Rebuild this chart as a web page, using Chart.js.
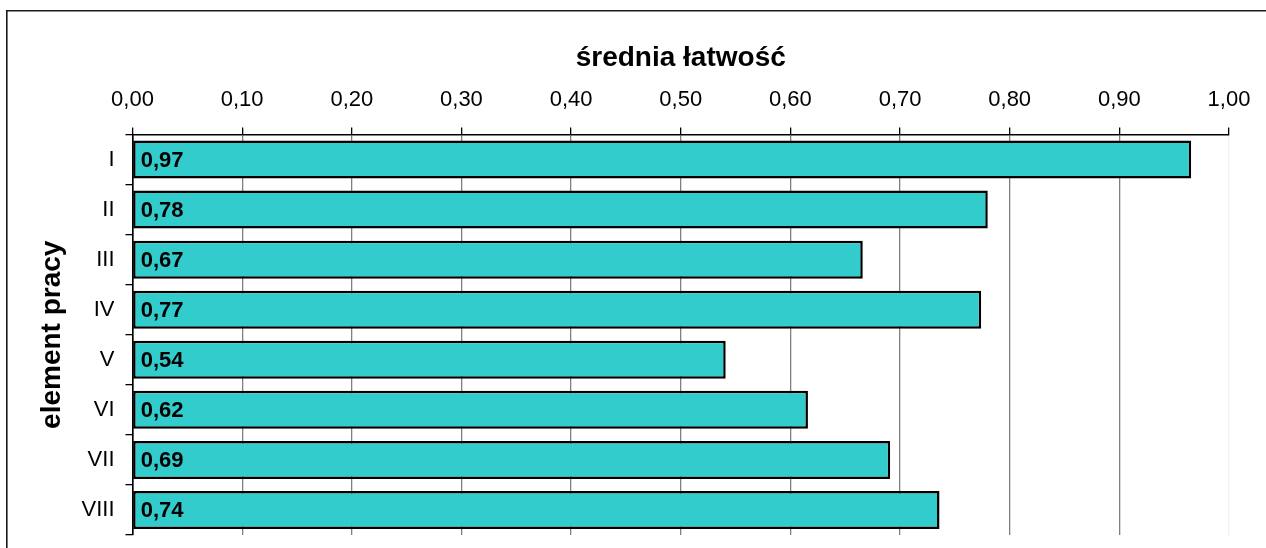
<!DOCTYPE html>
<html>
<head>
<meta charset="utf-8">
<script src="https://cdn.jsdelivr.net/npm/chart.js@4.4.1/dist/chart.umd.min.js"></script>
<style>
  html, body { margin: 0; padding: 0; background: #fff; }
  #wrap { width: 1266px; height: 548px; position: relative; }
</style>
</head>
<body>
<div id="wrap"><canvas id="c" width="1266" height="548"></canvas></div>
<script>
const categories = ['I', 'II', 'III', 'IV', 'V', 'VI', 'VII', 'VIII'];
const values = [0.9655, 0.780, 0.666, 0.774, 0.541, 0.616, 0.691, 0.736];
const xTickLabels = ['0,00', '0,10', '0,20', '0,30', '0,40', '0,50', '0,60', '0,70', '0,80', '0,90', '1,00'];
const xTitle = 'średnia łatwość';
const yTitle = 'element pracy';

const FONT = "'Liberation Sans', Arial, sans-serif";

const frame = {
  id: 'frame',
  beforeDraw(chart) {
    const ctx = chart.ctx;
    ctx.save();
    ctx.fillStyle = '#fff';
    ctx.fillRect(0, 0, chart.width, chart.height);
    ctx.strokeStyle = '#1a1a1a';
    ctx.lineWidth = 1.6;
    ctx.beginPath();
    ctx.moveTo(6.8, chart.height);
    ctx.lineTo(6.8, 10.8);
    ctx.lineTo(chart.width, 10.8);
    ctx.stroke();
    ctx.restore();
  }
};

const valueLabels = {
  id: 'valueLabels',
  afterDatasetsDraw(chart) {
    const ctx = chart.ctx;
    const meta = chart.getDatasetMeta(0);
    ctx.save();
    ctx.font = 'bold 22px ' + FONT;
    ctx.fillStyle = '#000';
    ctx.textAlign = 'left';
    ctx.textBaseline = 'middle';
    meta.data.forEach((bar, i) => {
      const v = Math.round(values[i] * 100) / 100;
      ctx.fillText(v.toFixed(2).replace('.', ','), bar.base + 7.5, bar.y + 1);
    });
    ctx.restore();
  }
};

new Chart(document.getElementById('c'), {
  type: 'bar',
  data: {
    labels: categories,
    datasets: [{
      data: values,
      backgroundColor: '#33CCCC',
      borderColor: '#000',
      borderWidth: 2.5,
      borderSkipped: false,
      categoryPercentage: 1.0,
      barPercentage: 0.76
    }]
  },
  options: {
    indexAxis: 'y',
    responsive: false,
    maintainAspectRatio: false,
    devicePixelRatio: 1,
    animation: false,
    layout: { padding: { left: 31.5, top: 37, right: 37, bottom: 13 } },
    plugins: { legend: { display: false }, tooltip: { enabled: false } },
    scales: {
      x: {
        position: 'top',
        min: 0,
        max: 1,
        afterFit(scale) { scale.height = 97.5; },
        afterBuildTicks(scale) {
          scale.ticks = xTickLabels.map((_, i) => ({ value: i / 10 }));
        },
        ticks: {
          autoSkip: false,
          maxRotation: 0,
          padding: 14,
          color: '#000',
          font: { family: FONT, size: 22 },
          callback: (v, i) => xTickLabels[i]
        },
        grid: {
          color: (ctx) => ctx.index === 10 ? '#f2f2f2' : '#808080',
          lineWidth: 1.3,
          tickColor: '#000',
          tickLength: 7,
          drawOnChartArea: true
        },
        border: { display: true, color: '#000', width: 1.6 },
        title: {
          display: true,
          text: xTitle,
          color: '#000',
          font: { family: FONT, size: 28, weight: 'bold' },
          padding: { top: 4, bottom: 4 }
        }
      },
      y: {
        position: 'left',
        afterFit(scale) {
          scale.width = 101;
          scale.paddingTop = 0;
          scale.paddingBottom = 0;
        },
        ticks: {
          padding: 11,
          color: '#000',
          font: { family: FONT, size: 22 }
        },
        grid: {
          offset: true,
          drawOnChartArea: false,
          tickColor: '#000',
          tickLength: 7,
          lineWidth: 1.3
        },
        border: { display: true, color: '#000', width: 1.6 },
        title: {
          display: true,
          text: yTitle,
          color: '#000',
          font: { family: FONT, size: 28, weight: 'bold' },
          padding: { top: 4, bottom: 4 }
        }
      }
    }
  },
  plugins: [frame, valueLabels]
});
</script>
</body>
</html>
